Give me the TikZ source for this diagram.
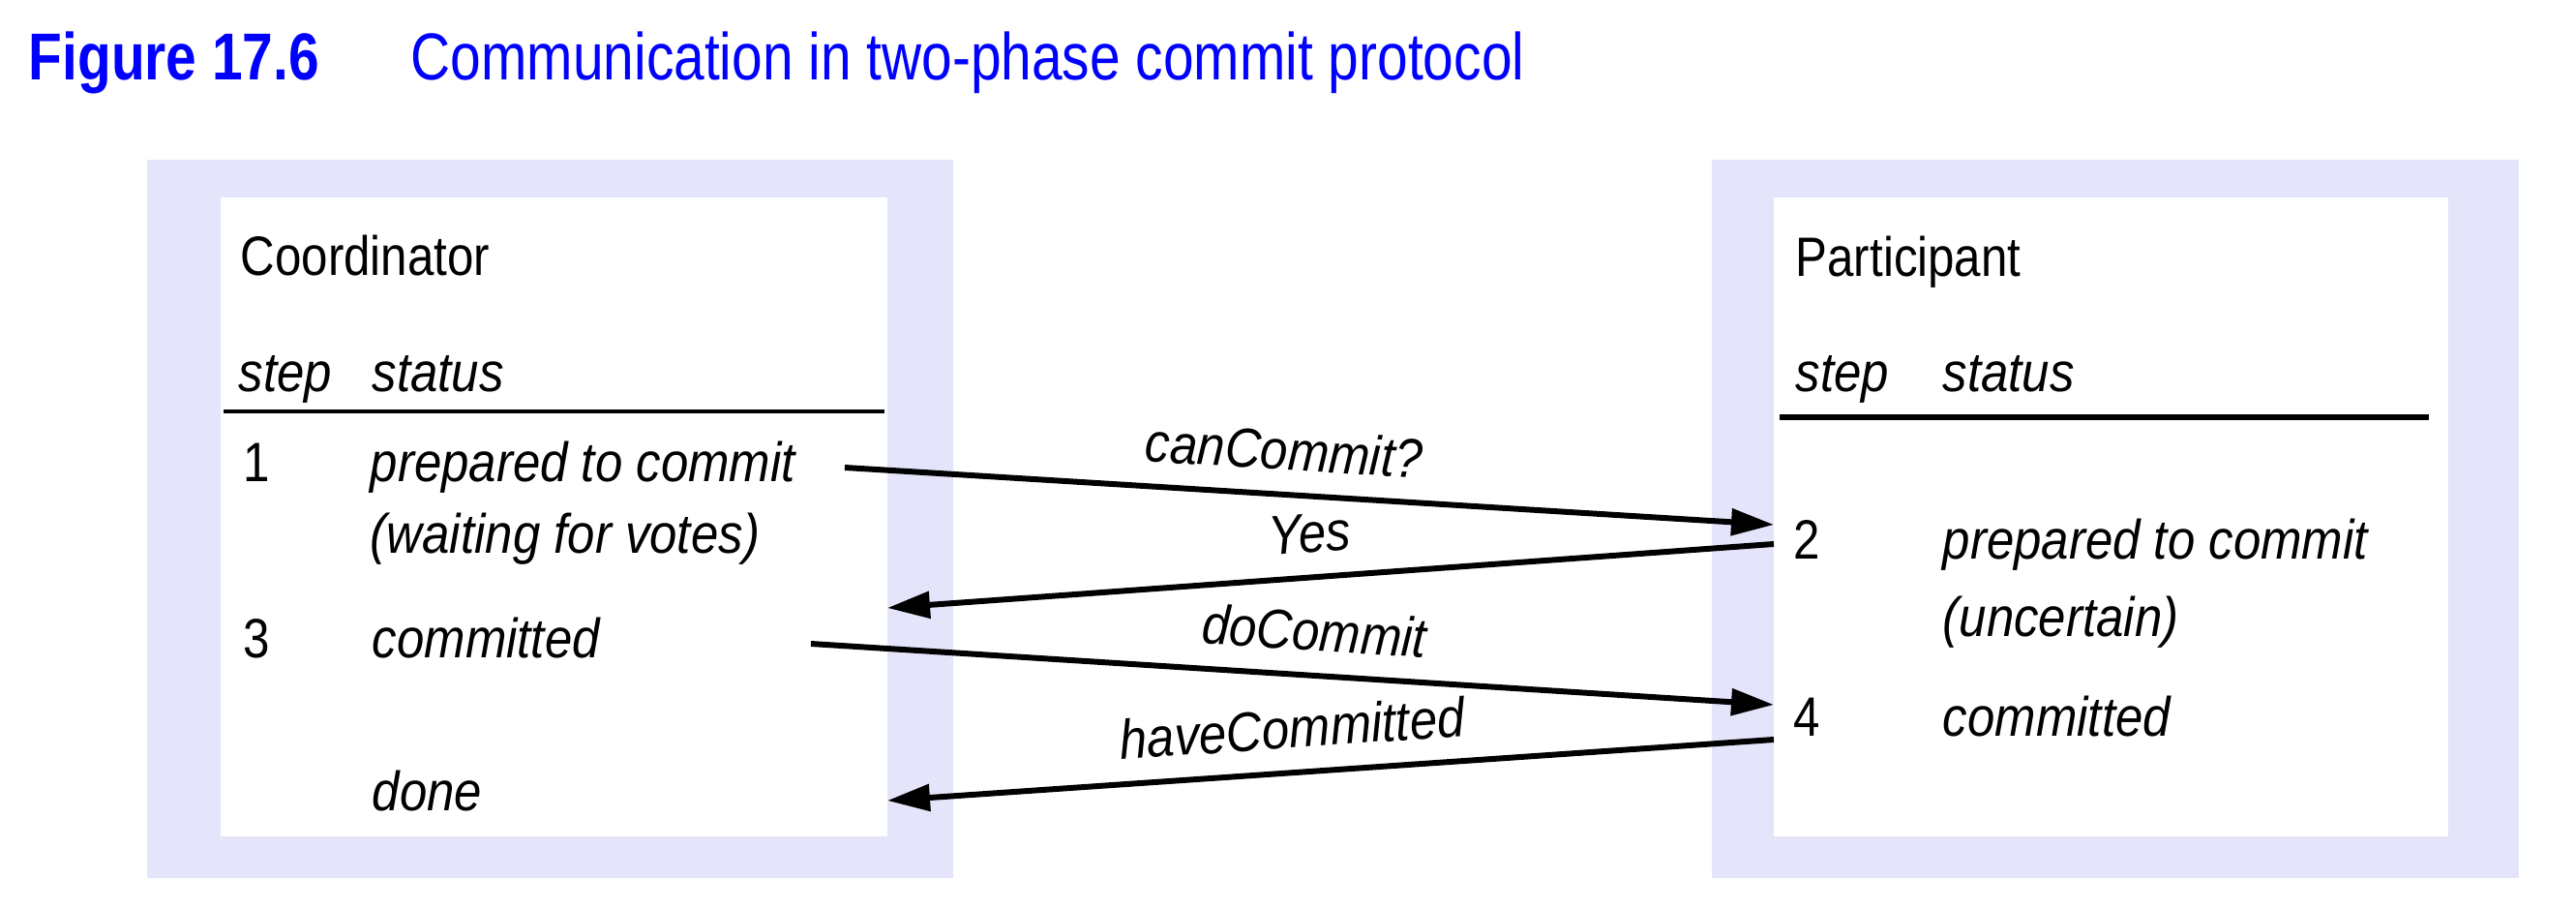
\documentclass[tikz,border=0pt]{standalone}
\usepackage{fontspec}
\setmainfont{Liberation Sans}[UprightFeatures={FakeStretch=0.86}, ItalicFeatures={FakeStretch=0.89}]
\newfontfamily\titlefont{Liberation Sans}[FakeStretch=0.83]
\definecolor{figblue}{RGB}{0, 0, 255}
\definecolor{panelblue}{RGB}{228, 228, 250}
\usetikzlibrary{arrows.meta}

\begin{document}
\begin{tikzpicture}[
  txt/.style={anchor=base west, inner sep=0pt, font=\fontsize{16.3}{20}\selectfont},
  stat/.style={txt, font=\fontsize{16.3}{20}\selectfont\itshape},
  msg/.style={-{Triangle[length=4.4mm, width=2.7mm]}, line width=1.7pt},
  msglabel/.style={above=0.22cm, sloped, inner sep=0pt, font=\fontsize{16.3}{20}\selectfont\itshape},
  rule/.style={line width=1.3pt}
]
  \useasboundingbox (0,0) rectangle (26.62,9.38);

  \node[anchor=base west, inner sep=0pt, text=figblue, font=\titlefont\bfseries\fontsize{19.5}{24}\selectfont] (fignum) at (0.29,8.55) {Figure 17.6};
  \node[anchor=base west, inner sep=0pt, text=figblue, font=\titlefont\fontsize{19.5}{24}\selectfont] (figcaption) at (4.24,8.55) {Communication in two-phase commit protocol};

  \fill[panelblue] (1.52,0.31) rectangle (9.85,7.73);
  \fill[white] (2.28,0.74) rectangle (9.17,7.34);
  \fill[panelblue] (17.69,0.31) rectangle (26.03,7.73);
  \fill[white] (18.33,0.74) rectangle (25.30,7.34);

  \node[txt] (coord) at (2.48,6.53) {Coordinator};
  \node[stat] (cstep) at (2.46,5.33) {step};
  \node[stat] (cstatus) at (3.84,5.33) {status};
  \draw[rule] (2.31,5.13) -- (9.14,5.13);
  \node[txt] (cone) at (2.51,4.40) {1};
  \node[stat] (cprep) at (3.82,4.40) {prepared to commit};
  \node[stat] (cwait) at (3.82,3.66) {(waiting for votes)};
  \node[txt] (cthree) at (2.51,2.59) {3};
  \node[stat] (ccommit) at (3.84,2.59) {committed};
  \node[stat] (cdone) at (3.84,1.01) {done};

  \node[txt] (part) at (18.55,6.52) {Participant};
  \node[stat] (pstep) at (18.55,5.33) {step};
  \node[stat] (pstatus) at (20.07,5.33) {status};
  \draw[rule, line width=1.5pt] (18.39,5.07) -- (25.10,5.07);
  \node[txt] (ptwo) at (18.53,3.60) {2};
  \node[stat] (pprep) at (20.07,3.60) {prepared to commit};
  \node[stat] (punsure) at (20.07,2.81) {(uncertain)};
  \node[txt] (pfour) at (18.53,1.78) {4};
  \node[stat] (pcommit) at (20.07,1.78) {committed};

  \coordinate (askout) at (8.73,4.55);
  \coordinate (askin) at (18.33,3.96);
  \coordinate (voteout) at (18.33,3.76);
  \coordinate (votein) at (9.17,3.10);
  \coordinate (doout) at (8.38,2.73);
  \coordinate (doin) at (18.33,2.10);
  \coordinate (haveout) at (18.33,1.74);
  \coordinate (havein) at (9.17,1.11);

  \draw[msg] (askout) -- node[msglabel, pos=0.47] (askmsg) {canCommit?} (askin);
  \draw[msg] (voteout) -- node[msglabel, pos=0.52] (votemsg) {Yes} (votein);
  \draw[msg] (doout) -- node[msglabel, pos=0.52] (domsg) {doCommit} (doin);
  \draw[msg] (haveout) -- node[msglabel, pos=0.54] (havemsg) {haveCommitted} (havein);
\end{tikzpicture}
\end{document}
